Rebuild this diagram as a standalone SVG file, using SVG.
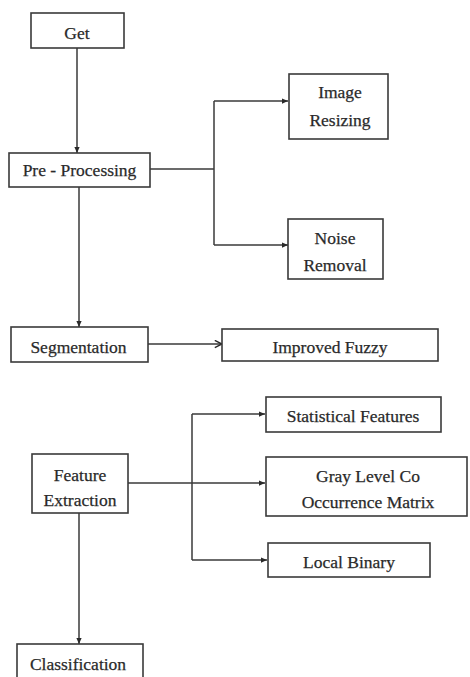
<svg xmlns="http://www.w3.org/2000/svg" width="470" height="677" viewBox="0 0 470 677">
<style>
.box{fill:#fff;stroke:#3a3a3a;stroke-width:1.6}
.ln{fill:none;stroke:#3a3a3a;stroke-width:1.5}
text{font-family:"Liberation Serif","Times New Roman",serif;font-size:17.5px;fill:#2a2a2a;stroke:#2a2a2a;stroke-width:0.25;text-anchor:middle}
</style>
<defs>
<marker id="ah" viewBox="0 0 8 8" refX="8" refY="4" markerWidth="6" markerHeight="6" markerUnits="userSpaceOnUse" orient="auto">
<path d="M0,0.5 L8,4 L0,7.5 Z" fill="#2a2a2a"/>
</marker>
<marker id="oh" viewBox="0 0 10 10" refX="9" refY="5" markerWidth="9" markerHeight="9" markerUnits="userSpaceOnUse" orient="auto">
<path d="M1,1 L9,5 L1,9" fill="none" stroke="#2a2a2a" stroke-width="1.6"/>
</marker>
</defs>
<rect width="470" height="677" fill="#fff"/>
<g id="connectors">
<line class="ln" x1="77" y1="48" x2="77" y2="153" marker-end="url(#ah)"/>
<polyline class="ln" points="150,169 214,169"/>
<polyline class="ln" points="214,101 214,245"/>
<line class="ln" x1="214" y1="101" x2="288" y2="101" marker-end="url(#ah)"/>
<line class="ln" x1="214" y1="245" x2="288" y2="245" marker-end="url(#ah)"/>
<line class="ln" x1="79" y1="187" x2="79" y2="327" marker-end="url(#ah)"/>
<line class="ln" x1="148" y1="344" x2="222" y2="344" marker-end="url(#oh)"/>
<line class="ln" x1="128" y1="483" x2="265" y2="483" marker-end="url(#ah)"/>
<polyline class="ln" points="192,414 192,560"/>
<line class="ln" x1="192" y1="414" x2="265" y2="414" marker-end="url(#ah)"/>
<line class="ln" x1="192" y1="560" x2="267" y2="560" marker-end="url(#ah)"/>
<line class="ln" x1="79" y1="513" x2="79" y2="644" marker-end="url(#ah)"/>
</g>
<g id="get">
<rect class="box" x="31" y="13" width="93" height="35"/>
<text x="77" y="39">Get</text>
</g>
<g id="preprocessing">
<rect class="box" x="9" y="153" width="141" height="34"/>
<text x="79.5" y="176">Pre - Processing</text>
</g>
<g id="image-resizing">
<rect class="box" x="289" y="74" width="99" height="65"/>
<text x="340" y="98">Image</text>
<text x="340" y="126">Resizing</text>
</g>
<g id="noise-removal">
<rect class="box" x="288" y="219" width="95" height="60"/>
<text x="335" y="244">Noise</text>
<text x="335" y="271">Removal</text>
</g>
<g id="segmentation">
<rect class="box" x="11" y="327" width="137" height="35"/>
<text x="78.5" y="353">Segmentation</text>
</g>
<g id="improved-fuzzy">
<rect class="box" x="222" y="329" width="216" height="32"/>
<text x="330" y="353">Improved Fuzzy</text>
</g>
<g id="feature-extraction">
<rect class="box" x="32" y="454" width="96" height="59"/>
<text x="80" y="481">Feature</text>
<text x="80" y="506">Extraction</text>
</g>
<g id="statistical-features">
<rect class="box" x="266" y="397" width="175" height="35"/>
<text x="353" y="422">Statistical Features</text>
</g>
<g id="glcm">
<rect class="box" x="266" y="457" width="201" height="59"/>
<text x="368" y="482">Gray Level Co</text>
<text x="368" y="508">Occurrence Matrix</text>
</g>
<g id="local-binary">
<rect class="box" x="268" y="543" width="162" height="34"/>
<text x="349" y="568">Local Binary</text>
</g>
<g id="classification">
<rect class="box" x="17" y="644" width="126" height="45"/>
<text x="78" y="670">Classification</text>
</g>
</svg>
